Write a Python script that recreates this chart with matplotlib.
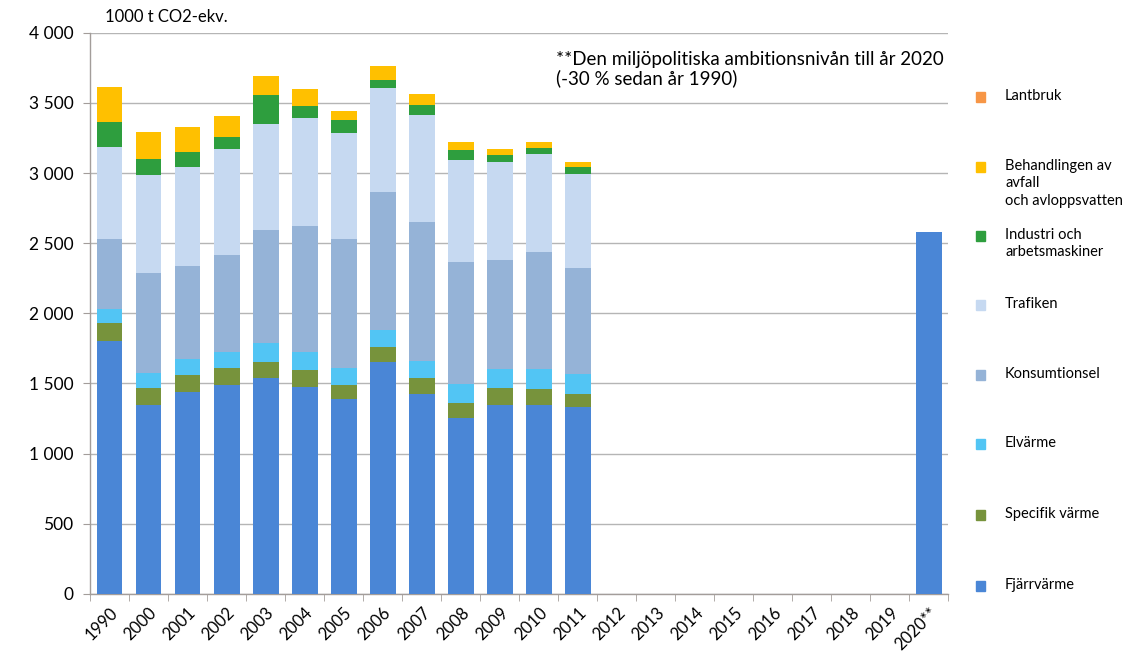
import matplotlib
matplotlib.use("Agg")
import matplotlib.pyplot as plt
import numpy as np
from matplotlib.patches import Rectangle
from matplotlib.ticker import FuncFormatter, MultipleLocator

plt.rcParams['font.family'] = ['Lato', 'DejaVu Sans']

years = ['1990', '2000', '2001', '2002', '2003', '2004', '2005', '2006', '2007',
         '2008', '2009', '2010', '2011', '2012', '2013', '2014', '2015', '2016',
         '2017', '2018', '2019', '2020**']

pad = [0] * 8
fjarrvarme = [1803, 1348, 1442, 1490, 1537, 1476, 1388, 1654, 1423, 1253, 1345, 1345, 1329] + pad + [2580]
specifik = [126, 118, 117, 121, 117, 118, 100, 106, 117, 104, 119, 114, 99] + pad + [0]
elvarme = [101, 107, 114, 116, 137, 133, 125, 121, 121, 138, 142, 142, 138] + pad + [0]
konsumtionsel = [502, 712, 662, 691, 800, 898, 919, 984, 987, 873, 774, 836, 757] + pad + [0]
trafiken = [651, 701, 708, 751, 758, 769, 753, 741, 765, 727, 696, 696, 672] + pad + [0]
industri = [180, 111, 104, 90, 207, 81, 90, 59, 69, 71, 52, 43, 45] + pad + [0]
behandling = [250, 195, 181, 145, 133, 126, 69, 95, 83, 55, 43, 47, 36] + pad + [0]
lantbruk = [0] * 13 + pad + [0]

series = [
    ('Fjärrvärme', fjarrvarme, '#4a86d6'),
    ('Specifik värme', specifik, '#77933c'),
    ('Elvärme', elvarme, '#52c5f4'),
    ('Konsumtionsel', konsumtionsel, '#95b3d7'),
    ('Trafiken', trafiken, '#c6d9f1'),
    ('Industri och\narbetsmaskiner', industri, '#2e9e3e'),
    ('Behandlingen av\navfall\noch avloppsvatten', behandling, '#ffc000'),
    ('Lantbruk', lantbruk, '#f79646'),
]

fig = plt.figure(figsize=(11.4, 6.68), dpi=100)
ax = fig.add_axes([0.079, 0.111, 0.753, 0.840])

x = np.arange(len(years))
bottom = np.zeros(len(years))
for name, vals, col in series:
    v = np.array(vals, dtype=float)
    ax.bar(x, v, bottom=bottom, width=0.66, color=col, edgecolor='none', zorder=3)
    bottom += v

ax.set_xlim(-0.5, len(years) - 0.5)
ax.set_ylim(0, 4000)
ax.yaxis.set_major_locator(MultipleLocator(500))
ax.yaxis.set_major_formatter(FuncFormatter(lambda v, p: f"{int(v):,}".replace(',', ' ')))
ax.grid(axis='y', color='#b5b5b5', linewidth=1.0, zorder=0)
ax.set_axisbelow(True)

for s in ['top', 'right']:
    ax.spines[s].set_visible(False)
for s in ['left', 'bottom']:
    ax.spines[s].set_color('#a39d9a')
    ax.spines[s].set_linewidth(1.0)

ax.set_xticks(x)
ax.set_xticklabels(years, rotation=45, ha='right', rotation_mode='anchor', fontsize=12)
ax.tick_params(axis='x', which='major', length=0, pad=8)
ax.set_xticks(np.arange(-0.5, len(years), 1.0), minor=True)
ax.tick_params(axis='x', which='minor', length=5, color='#a39d9a')
ax.tick_params(axis='y', length=5, color='#a39d9a', labelsize=12.5, pad=7)

fig.text(0.092, 0.963, '1000 t CO2-ekv.', fontsize=12, ha='left', va='bottom')
ax.text(0.543, 0.968, '**Den miljöpolitiska ambitionsnivån till år 2020\n(-30 % sedan år 1990)',
        transform=ax.transAxes, fontsize=13.5, ha='left', va='top', linespacing=1.1)

# legend drawn on the right, top to bottom
H, W = 668, 1140
ys = [97, 167, 236, 305, 375, 444, 515, 586]
for (name, vals, col), ypix in zip(reversed(series), ys):
    fy = 1 - ypix / H
    fig.patches.append(Rectangle((976 / W, fy - 5 / H), 9 / W, 10 / H,
                                 transform=fig.transFigure, color=col, zorder=5))
    fig.text(1005 / W, fy + 8 / H, name, fontsize=10.5, ha='left', va='top', linespacing=1.3)

fig.savefig('out.png', dpi=100)
